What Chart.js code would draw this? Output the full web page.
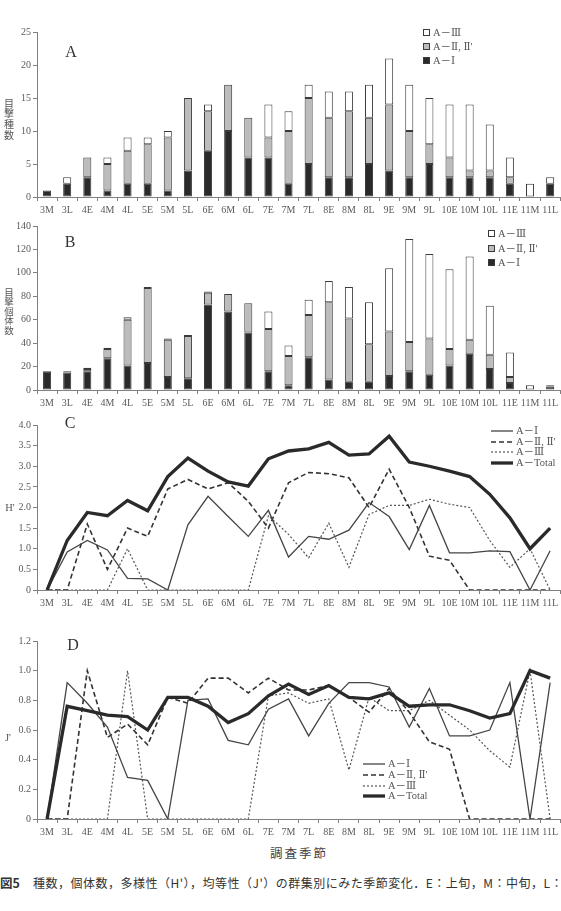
<!DOCTYPE html>
<html>
<head>
<meta charset="utf-8">
<script src="https://cdn.jsdelivr.net/npm/chart.js@4.4.1/dist/chart.umd.min.js"></script>
<style>
  body { margin: 0; width: 561px; height: 911px; overflow: hidden; background: #fff; position: relative; }
  .panel { position: absolute; left: 0; width: 561px; }
  canvas { display: block; }
  #xtitle { position: absolute; top: 843px; left: 270px; font: 12.5px "Noto Sans CJK JP"; letter-spacing: 2px; color: #444; }
  #caption { position: absolute; top: 873px; left: 0; white-space: nowrap; font: 12px "Noto Sans CJK JP"; letter-spacing: 0.5px; color: #333; }
  #caption b { font-size: 12.5px; margin-right: 13px; letter-spacing: 0; }
</style>
</head>
<body>
<div class="panel" style="top:0"><canvas id="chartA" width="561" height="218"></canvas></div>
<div class="panel" style="top:218px"><canvas id="chartB" width="561" height="190"></canvas></div>
<div class="panel" style="top:408px"><canvas id="chartC" width="561" height="200"></canvas></div>
<div class="panel" style="top:608px"><canvas id="chartD" width="561" height="228"></canvas></div>
<div id="xtitle">調査季節</div>
<div id="caption"><b>図5</b>種数，個体数，多様性（H'），均等性（J'）の群集別にみた季節変化．E：上旬，M：中旬，L：下旬．</div>

<script>
const seasons = ['3M','3L','4E','4M','4L','5E','5M','5L','6E','6M','6L','7E','7M','7L','8E','8M','8L','9E','9M','9L','10E','10M','10L','11E','11M','11L'];

// A: 目撃種数
const speciesI   = [1,2,3,1,2,2,1,4,7,10,6,6,2,5,3,3,5,4,3,5,3,3,3,2,0,2];
const speciesII  = [0,0,3,4,5,6,8,11,6,7,6,3,8,10,9,10,7,10,7,3,3,1,1,1,0,0];
const speciesIII = [0,1,0,1,2,1,1,0,1,0,0,5,3,2,4,3,5,7,7,7,8,10,7,3,2,1];

// B: 目撃個体数
const countI   = [16,15,16,27,21,23,11,10,73,67,49,16,4,28,9,7,7,12,16,13,21,31,18,6,0,3];
const countII  = [0,1,2,8,39,64,32,36,10,15,25,36,25,36,66,54,32,38,25,31,14,12,12,5,0,1];
const countIII = [0,0,1,1,2,1,1,1,1,0,0,15,9,13,18,27,36,54,88,72,68,71,42,21,4,0];

// C: H'
const hI     = [0,0.92,1.2,0.97,0.28,0.27,0,1.58,2.27,1.78,1.3,1.93,0.8,1.3,1.23,1.45,2.12,1.78,0.98,2.05,0.9,0.9,0.95,0.93,0,0.95];
const hII    = [0,0,1.6,0.5,1.5,1.3,2.45,2.68,2.45,2.6,2.15,1.5,2.6,2.85,2.82,2.72,2.0,2.93,2.0,0.82,0.72,0,0,0,0,0];
const hIII   = [0,0,0,0,1.0,0,0,0,0,0,0,1.8,1.35,0.78,1.62,0.55,1.83,2.05,2.05,2.2,2.08,2.0,1.2,0.55,1.0,0];
const hTotal = [0,1.2,1.88,1.8,2.17,1.92,2.75,3.2,2.88,2.62,2.52,3.18,3.37,3.42,3.58,3.27,3.3,3.73,3.1,3.0,2.88,2.75,2.32,1.75,1.0,1.5];

// D: J'
const jI     = [0,0.92,0.78,0.62,0.28,0.26,0,0.8,0.81,0.53,0.5,0.74,0.81,0.56,0.78,0.92,0.92,0.89,0.62,0.88,0.56,0.56,0.6,0.92,0,0.92];
const jII    = [0,0,1.0,0.55,0.64,0.5,0.82,0.78,0.95,0.95,0.85,0.95,0.87,0.87,0.9,0.82,0.72,0.88,0.72,0.52,0.47,0,0,0,0,0];
const jIII   = [0,0,0,0,1.0,0,0,0,0,0,0,0.83,0.85,0.78,0.81,0.33,0.82,0.73,0.73,0.8,0.7,0.6,0.46,0.35,1.0,0];
const jTotal = [0,0.76,0.73,0.7,0.69,0.6,0.82,0.82,0.76,0.65,0.71,0.83,0.91,0.84,0.9,0.82,0.81,0.85,0.76,0.77,0.77,0.73,0.68,0.71,1.0,0.95];

// tick labels
const ticksA = [0,5,10,15,20,25];
const ticksB = [0,20,40,60,80,100,120,140];
const ticksC = [0,0.5,1,1.5,2,2.5,3,3.5,4];
const ticksD = [0,0.2,0.4,0.6,0.8,1,1.2];

const labI = 'A－Ⅰ', labII = "A－Ⅱ, Ⅱ'", labIII = 'A－Ⅲ', labTotal = 'A－Total';

const axisColor = '#808080';
const tickColor = '#5a5a5a';
const serif = '"Liberation Serif", "DejaVu Serif", "Noto Sans CJK JP"';

// panel letter, y title and legend
const panelDeco = {
    id: 'panelDeco',
    afterDraw(chart, args, o) {
        const ctx = chart.ctx;
        ctx.save();
        ctx.fillStyle = '#333';
        ctx.textAlign = 'center';
        ctx.textBaseline = 'middle';
        ctx.font = '16px ' + serif;
        ctx.fillText(o.letter[0], o.letter[1], o.letter[2]);

        ctx.fillStyle = '#555';
        ctx.font = o.titleFont;
        o.title.forEach((ch, i) => ctx.fillText(ch, o.titleX, o.titleY + i * o.titleStep));

        ctx.font = '10.5px ' + serif;
        ctx.textAlign = 'left';
        o.legend.forEach((item, i) => {
            const ds = chart.data.datasets[item.ds];
            const y = o.legY[i];
            if (o.legType === 'box') {
                ctx.fillStyle = ds.backgroundColor;
                ctx.strokeStyle = ds.borderColor;
                ctx.lineWidth = 1;
                ctx.fillRect(o.legX + 0.5, y - 3.5, 6, 6);
                ctx.strokeRect(o.legX + 0.5, y - 3.5, 6, 6);
                ctx.fillStyle = '#555';
                ctx.fillText(item.text, o.legX + 10, y);
            } else {
                ctx.strokeStyle = ds.borderColor;
                ctx.lineWidth = ds.borderWidth;
                ctx.setLineDash(ds.borderDash || []);
                ctx.beginPath();
                ctx.moveTo(o.legX, y);
                ctx.lineTo(o.legX + 22, y);
                ctx.stroke();
                ctx.setLineDash([]);
                ctx.fillStyle = '#555';
                ctx.fillText(item.text, o.legX + 25, y);
            }
        });
        ctx.restore();
    }
};

function baseOptions(yTicks, padTop, axisH, stacked, deco) {
    return {
        responsive: false,
        animation: false,
        layout: { padding: { top: padTop, left: 0, right: 0, bottom: 0 } },
        plugins: { legend: { display: false }, tooltip: { enabled: false }, panelDeco: deco },
        scales: {
            x: {
                stacked: stacked,
                offset: true,
                grid: { offset: true, drawOnChartArea: false, drawTicks: true, tickLength: 4, color: axisColor },
                border: { color: axisColor, width: 1 },
                ticks: { color: tickColor, font: { family: serif, size: 10 }, maxRotation: 0, autoSkip: false, padding: 3 },
                afterFit(s) { s.height = axisH; }
            },
            y: {
                stacked: stacked,
                min: yTicks[0],
                max: yTicks[yTicks.length - 1],
                grid: { drawOnChartArea: false, drawTicks: true, tickLength: 4, color: axisColor },
                border: { color: axisColor, width: 1 },
                ticks: { color: tickColor, font: { family: serif, size: 10 }, padding: 2 },
                afterBuildTicks(s) { s.ticks = yTicks.map(v => ({ value: v })); },
                afterFit(s) { s.width = 37; }
            }
        }
    };
}

function barSet(label, data, fill) {
    return { label: label, data: data, backgroundColor: fill, borderColor: '#3a3a3a', borderWidth: 1,
             borderSkipped: false, barPercentage: 0.4, categoryPercentage: 1 };
}

function lineSets(dI, dII, dIII, dT) {
    const common = { pointRadius: 0, tension: 0, fill: false };
    return [
        Object.assign({ label: labI, data: dI, borderColor: '#454545', borderWidth: 1.3, order: 1 }, common),
        Object.assign({ label: labII, data: dII, borderColor: '#333', borderWidth: 1.6, borderDash: [5, 3], order: 2 }, common),
        Object.assign({ label: labIII, data: dIII, borderColor: '#555', borderWidth: 1.2, borderDash: [2, 2], order: 3 }, common),
        Object.assign({ label: labTotal, data: dT, borderColor: '#2a2a2a', borderWidth: 3.3, order: 0 }, common)
    ];
}

const barLegend = [{ ds: 2, text: labIII }, { ds: 1, text: labII }, { ds: 0, text: labI }];
const lineLegend = [{ ds: 0, text: labI }, { ds: 1, text: labII }, { ds: 2, text: labIII }, { ds: 3, text: labTotal }];

new Chart(document.getElementById('chartA'), {
    type: 'bar',
    data: { labels: seasons, datasets: [
        barSet(labI, speciesI, '#2a2a2a'),
        barSet(labII, speciesII, '#bcbcbc'),
        barSet(labIII, speciesIII, '#ffffff')
    ] },
    options: baseOptions(ticksA, 32, 21, true, {
        letter: ['A', 71, 53], title: ['目','撃','種','数'], titleFont: '10px "Noto Sans CJK JP"',
        titleX: 9, titleY: 103, titleStep: 10.7, legType: 'box', legX: 423, legY: [33, 47, 61], legend: barLegend
    }),
    plugins: [panelDeco]
});

new Chart(document.getElementById('chartB'), {
    type: 'bar',
    data: { labels: seasons, datasets: [
        barSet(labI, countI, '#2a2a2a'),
        barSet(labII, countII, '#bcbcbc'),
        barSet(labIII, countIII, '#ffffff')
    ] },
    options: baseOptions(ticksB, 5, 18, true, {
        letter: ['B', 70, 25], title: ['目','撃','個','体','数'], titleFont: '9.5px "Noto Sans CJK JP"',
        titleX: 9, titleY: 74, titleStep: 9.6, legType: 'box', legX: 488, legY: [16, 31, 45], legend: barLegend
    }),
    plugins: [panelDeco]
});

new Chart(document.getElementById('chartC'), {
    type: 'line',
    data: { labels: seasons, datasets: lineSets(hI, hII, hIII, hTotal) },
    options: baseOptions(ticksC, 17, 18, false, {
        letter: ['C', 70, 16], title: ["H'"], titleFont: '10.5px ' + serif,
        titleX: 10, titleY: 100, titleStep: 0, legType: 'line', legX: 491, legY: [23, 34, 44, 55], legend: lineLegend
    }),
    plugins: [panelDeco]
});

new Chart(document.getElementById('chartD'), {
    type: 'line',
    data: { labels: seasons, datasets: lineSets(jI, jII, jIII, jTotal) },
    options: baseOptions(ticksD, 33, 17, false, {
        letter: ['D', 73, 38], title: ["J'"], titleFont: '10.5px ' + serif,
        titleX: 8, titleY: 130, titleStep: 0, legType: 'line', legX: 363, legY: [156, 167, 178, 188], legend: lineLegend
    }),
    plugins: [panelDeco]
});
</script>
</body>
</html>
